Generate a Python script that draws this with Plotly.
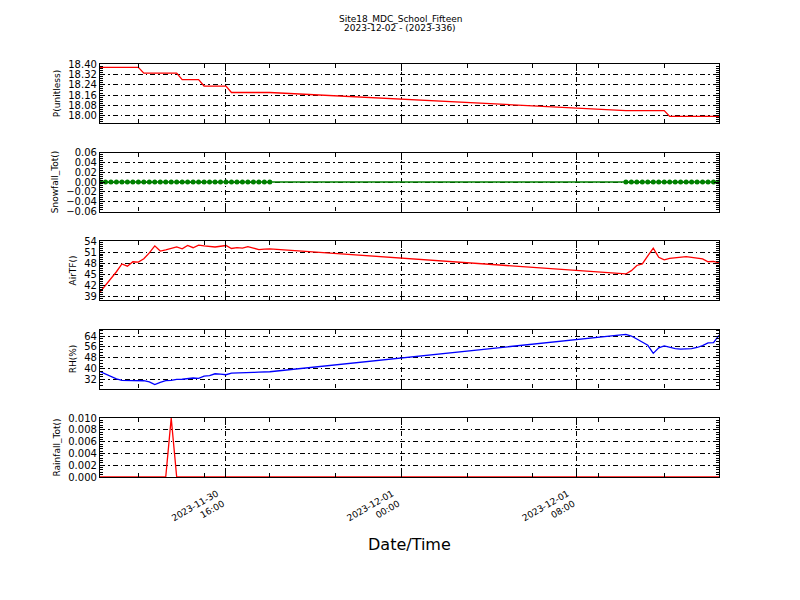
import plotly.graph_objects as go
import pandas as pd

# ---------------- data ----------------
title_line1 = "Site18_MDC_School_Fifteen"
title_line2 = "2023-12-02 - (2023-336)"

times_seg1 = list(pd.date_range("2023-11-30 10:15", "2023-11-30 18:00", freq="15min"))
times_seg2 = list(pd.date_range("2023-12-01 10:15", "2023-12-01 14:30", freq="15min"))
times = times_seg1 + times_seg2

pressure_seg1 = [18.375, 18.375, 18.375, 18.375, 18.375, 18.375, 18.375, 18.375,
                 18.33, 18.33, 18.33, 18.33, 18.33, 18.33, 18.33,
                 18.28, 18.28, 18.28, 18.28,
                 18.23, 18.23, 18.23, 18.23, 18.23,
                 18.18, 18.18, 18.18, 18.18, 18.18, 18.18, 18.18, 18.18]
pressure_seg2 = [18.04, 18.04, 18.04, 18.04, 18.04, 18.04, 18.04, 18.04,
                 17.995, 17.995, 17.995, 17.995, 17.995, 17.995, 17.995, 17.995, 17.995, 17.995]

snow_seg1 = [0.0, 0.0, 0.0, 0.0, 0.0, 0.0, 0.0, 0.0, 0.0, 0.0, 0.0, 0.0, 0.0, 0.0, 0.0, 0.0,
             0.0, 0.0, 0.0, 0.0, 0.0, 0.0, 0.0, 0.0, 0.0, 0.0, 0.0, 0.0, 0.0, 0.0, 0.0, 0.0]
snow_seg2 = [0.0, 0.0, 0.0, 0.0, 0.0, 0.0, 0.0, 0.0, 0.0, 0.0, 0.0, 0.0, 0.0, 0.0, 0.0, 0.0, 0.0, 0.0]

airt_seg1 = [40.2, 42.0, 43.8, 45.7, 47.8, 47.2, 48.4, 48.3, 49.2, 50.8, 52.7, 51.3,
             51.6, 52.1, 52.4, 51.9, 52.8, 52.2, 52.9, 52.7, 52.6, 52.4, 52.6, 52.8,
             52.0, 52.2, 52.1, 52.5, 52.1, 51.7, 51.8, 51.9]
airt_seg2 = [45.1, 46.0, 47.4, 47.8, 50.0, 52.1, 49.6, 48.9, 49.3, 49.4, 49.5, 49.8,
             49.6, 49.4, 49.2, 48.4, 48.5, 48.1]

rh_seg1 = [38.0, 36.0, 34.2, 32.5, 31.5, 31.4, 31.6, 31.5, 31.2, 30.4, 28.4, 30.0,
           31.3, 31.5, 32.2, 32.3, 32.7, 33.2, 33.0, 34.6, 35.0, 36.3, 36.0, 35.6,
           36.8, 36.8, 37.0, 37.2, 37.3, 37.5, 37.6, 37.8]
rh_seg2 = [65.2, 64.0, 61.8, 59.8, 57.2, 51.3, 55.4, 56.7, 55.6, 54.8, 54.4, 54.4,
           54.8, 55.6, 57.0, 59.0, 59.2, 64.5]

rain_seg1 = [0.0, 0.0, 0.0, 0.0, 0.0, 0.0, 0.0, 0.0, 0.0, 0.0, 0.0, 0.0, 0.0, 0.01, 0.0, 0.0,
             0.0, 0.0, 0.0, 0.0, 0.0, 0.0, 0.0, 0.0, 0.0, 0.0, 0.0, 0.0, 0.0, 0.0, 0.0, 0.0]
rain_seg2 = [0.0, 0.0, 0.0, 0.0, 0.0, 0.0, 0.0, 0.0, 0.0, 0.0, 0.0, 0.0, 0.0, 0.0, 0.0, 0.0, 0.0, 0.0]

y_titles = ["P(unitless)", "Snowfall_Tot()", "AirTF()", "RH(%)", "Rainfall_Tot()"]
x_tick_vals = ["2023-11-30 16:00", "2023-12-01 00:00", "2023-12-01 08:00"]
x_tick_text = ["2023-11-30<br>16:00", "2023-12-01<br>00:00", "2023-12-01<br>08:00"]
x_range = ["2023-11-30 10:15", "2023-12-01 14:30"]
x_title = "Date/Time"

p_ticks = [18.00, 18.08, 18.16, 18.24, 18.32, 18.40]
snow_ticks = [-0.06, -0.04, -0.02, 0.00, 0.02, 0.04, 0.06]
airt_ticks = [39, 42, 45, 48, 51, 54]
rh_ticks = [32, 40, 48, 56, 64]
rain_ticks = [0.000, 0.002, 0.004, 0.006, 0.008, 0.010]

# ---------------- figure ----------------
FONT = "DejaVu Sans"
fig = go.Figure()

series = [
    (pressure_seg1 + pressure_seg2, "red", "lines"),
    (snow_seg1 + snow_seg2, "green", "lines+markers"),
    (airt_seg1 + airt_seg2, "red", "lines"),
    (rh_seg1 + rh_seg2, "blue", "lines"),
    (rain_seg1 + rain_seg2, "red", "lines"),
]
for i, (vals, col, mode) in enumerate(series):
    sfx = "" if i == 0 else str(i + 1)
    fig.add_trace(go.Scatter(
        x=times, y=vals, mode=mode, xaxis="x" + sfx, yaxis="y" + sfx,
        line=dict(color=col, width=1.3),
        marker=dict(color=col, size=5, line=dict(width=0)),
        showlegend=False, cliponaxis=True,
    ))

W, H = 800, 600
x0, x1 = 100 / W, 719 / W
panels_px = [(60, 120), (150, 210), (240, 300), (330, 390), (420, 480)]
y_ranges = [[17.944, 18.4006], [-0.0601, 0.0601], [38.05, 54.02], [25.5, 68.8], [0.0, 0.01003]]
y_tickvals = [p_ticks, snow_ticks, airt_ticks, rh_ticks, rain_ticks]
y_fmts = [".2f", ".2f", "d", "d", ".3f"]
y_minor = [0.016, 0.004, 0.5, 2, 0.0004]

GRIDDASH = "5px,3px,1.5px,3px"
layout = dict(
    width=W, height=H, autosize=False,
    margin=dict(l=0, r=0, t=0, b=0),
    paper_bgcolor="white", plot_bgcolor="white",
    font=dict(family=FONT, color="black"),
    showlegend=False,
)
for i in range(5):
    sfx = "" if i == 0 else str(i + 1)
    top, bot = panels_px[i]
    layout["xaxis" + sfx] = dict(
        domain=[x0, x1], anchor="y" + sfx, type="date", range=x_range,
        matches=None if i == 0 else "x",
        tickmode="array", tickvals=x_tick_vals, ticktext=x_tick_text,
        showticklabels=(i == 4), tickangle=-30,
        ticklabelshift=-9, ticklabelstandoff=7,
        tickfont=dict(size=9, family=FONT),
        ticks="inside", ticklen=7, tickwidth=1, tickcolor="black",
        showline=True, linecolor="black", linewidth=1.2, mirror="ticks",
        showgrid=True, gridcolor="black", gridwidth=0.5, griddash=GRIDDASH,
        minor=dict(ticks="inside", ticklen=4, tickwidth=1, tickcolor="black",
                   dtick=3 * 3600 * 1000, tick0="2023-11-30 00:00", showgrid=False),
        zeroline=False,
    )
    layout["yaxis" + sfx] = dict(
        domain=[1 - bot / H, 1 - top / H], anchor="x" + sfx,
        range=y_ranges[i], tickmode="array", tickvals=y_tickvals[i],
        tickformat=y_fmts[i], tickfont=dict(size=10, family=FONT),
        ticks="inside", ticklen=5, tickwidth=1, tickcolor="black",
        showline=True, linecolor="black", linewidth=1.2, mirror="ticks",
        showgrid=True, gridcolor="black", gridwidth=0.5, griddash=GRIDDASH,
        minor=dict(ticks="inside", ticklen=3, tickwidth=1.2, tickcolor="black",
                   dtick=y_minor[i], showgrid=False),
        zeroline=False,
        title=dict(text=y_titles[i], font=dict(size=9, family=FONT), standoff=6),
    )
fig.update_layout(**layout)

fig.add_annotation(text=title_line1, x=0.5, y=1 - 14 / H, xref="paper", yref="paper",
                   showarrow=False, font=dict(size=9, family=FONT), yanchor="middle")
fig.add_annotation(text=title_line2, x=0.5, y=1 - 23 / H, xref="paper", yref="paper",
                   showarrow=False, font=dict(size=9, family=FONT), yanchor="middle")
fig.add_annotation(text=x_title, x=409.5 / W, y=1 - 549 / H, xref="paper", yref="paper",
                   showarrow=False, font=dict(size=16, family=FONT), yanchor="middle")

fig.write_html("out.html", config={"displayModeBar": False},
               post_script="document.body.style.margin='0px';document.body.style.overflow='hidden';")
